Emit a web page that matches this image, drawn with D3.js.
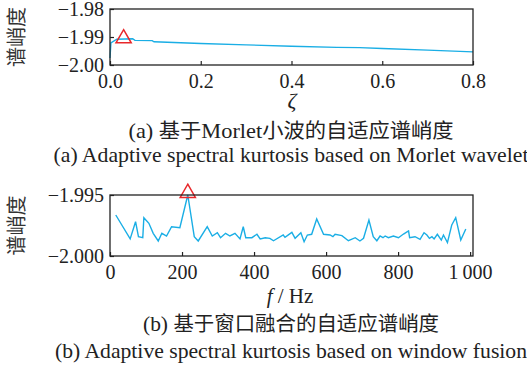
<!DOCTYPE html>
<html>
<head>
<meta charset="utf-8">
<script src="https://cdn.jsdelivr.net/npm/d3@7"></script>
<style>
  body { margin: 0; background: #fff; }
  svg text { font-family: "Liberation Serif", "Times New Roman", serif; fill: #222; }
  svg text.cjk, svg tspan.cjk { font-family: "Noto Sans CJK SC", sans-serif; }
</style>
</head>
<body>
<svg width="527" height="373"></svg>
<script>
// (a) Morlet wavelet adaptive SK: zeta vs kurtosis
var zetaA = [0, 0.002, 0.015, 0.05, 0.055, 0.093, 0.097, 0.2, 0.3, 0.4, 0.5, 0.55, 0.6, 0.7, 0.8];
var skA = [-1.9975, -1.9921, -1.9908, -1.9906, -1.9912, -1.9913, -1.9917, -1.9923, -1.9928, -1.9933, -1.9937, -1.9938, -1.9941, -1.9947, -1.9953];
var peakA = [0.03, -1.9905];
var xTicksA = [0, 0.2, 0.4, 0.6, 0.8];
var yTicksA = [-1.98, -1.99, -2.00];

// (b) window fusion adaptive SK: frequency vs kurtosis
var freqB = [16, 56, 71, 79, 91, 94, 108, 120, 134, 144, 157, 171, 194, 216, 234, 245, 270, 284, 298, 307,
  321, 333, 347, 361, 370, 377, 394, 408, 417, 431, 444, 454, 481, 486, 505, 514, 530, 539, 548, 560,
  574, 593, 611, 619, 625, 644, 662, 681, 694, 704, 719, 731, 741, 750, 758, 764, 773, 787, 801, 815,
  829, 832, 847, 861, 872, 880, 887, 894, 900, 909, 920, 926, 937, 949, 960, 974, 988];
var skB = [-1.99664, -1.9986, -1.99719, -1.99842, -1.9985, -1.99686, -1.99732, -1.99814, -1.99877, -1.99814,
  -1.99836, -1.9976, -1.99768, -1.9950, -1.99842, -1.99877, -1.9976, -1.99836, -1.99809, -1.9985,
  -1.99814, -1.99836, -1.99814, -1.9986, -1.9976, -1.9985, -1.9985, -1.99822, -1.9986, -1.9985,
  -1.99855, -1.99875, -1.99828, -1.99847, -1.99806, -1.99855, -1.99809, -1.99883, -1.99828, -1.99822,
  -1.99697, -1.99822, -1.99828, -1.99842, -1.99822, -1.99833, -1.99875, -1.9985, -1.99877, -1.99855,
  -1.99705, -1.99842, -1.99875, -1.99836, -1.9985, -1.99836, -1.9985, -1.99836, -1.9985, -1.9982,
  -1.99795, -1.9985, -1.99842, -1.99863, -1.99809, -1.99828, -1.99855, -1.99842, -1.9986, -1.99822,
  -1.9987, -1.99828, -1.9989, -1.99746, -1.99686, -1.99869, -1.99779];
var peakB = [216, -1.9950];
var xTicksB = [0, 200, 400, 600, 800, 1000];
var yTicksB = [-1.995, -2.000];

var svg = d3.select("svg");
var serif = '"Liberation Serif", "Times New Roman", serif';
var cjk = '"Noto Sans CJK SC", sans-serif';
var lineColor = "#1aaee5";
var markColor = "#e8282b";

function panel(opt) {
  var x = d3.scaleLinear().domain(opt.xDomain).range([110, 473]);
  var y = d3.scaleLinear().domain(opt.yDomain).range([opt.bottom, opt.top]);
  var g = svg.append("g");

  // bottom axis, ticks pointing inward
  g.append("g")
      .attr("transform", "translate(0," + opt.bottom + ")")
      .call(d3.axisBottom(x).tickValues(opt.xTicks).tickSizeInner(-4).tickSizeOuter(0).tickPadding(9).tickFormat(opt.xFormat))
      .call(function(a) {
        a.select(".domain").remove();
        a.selectAll("line").attr("stroke", "#222").attr("stroke-width", 1.2);
        a.selectAll("text").style("font-family", serif).style("font-size", "20px").style("fill", "#222");
      });

  // left axis
  g.append("g")
      .attr("transform", "translate(110,0)")
      .call(d3.axisLeft(y).tickValues(opt.yTicks).tickSizeInner(-4).tickSizeOuter(0).tickPadding(6).tickFormat(opt.yFormat))
      .call(function(a) {
        a.select(".domain").remove();
        a.selectAll("line").attr("stroke", "#222").attr("stroke-width", 1.2);
        a.selectAll("text").style("font-family", serif).style("font-size", "20px").style("fill", "#222");
      });

  // series line
  var pts = opt.xs.map(function(d, i) { return [d, opt.ys[i]]; });
  g.append("path")
      .datum(pts)
      .attr("fill", "none")
      .attr("stroke", lineColor)
      .attr("stroke-width", 1.4)
      .attr("d", d3.line().x(function(d) { return x(d[0]); }).y(function(d) { return y(d[1]); }));

  // peak marker
  g.append("path")
      .attr("d", d3.symbol().type(d3.symbolTriangle).size(100))
      .attr("transform", "translate(" + x(opt.peak[0]) + "," + (y(opt.peak[1]) + opt.markDy) + ")")
      .attr("fill", "none")
      .attr("stroke", markColor)
      .attr("stroke-width", 1.5);

  // frame
  g.append("rect")
      .attr("x", 110).attr("y", opt.top)
      .attr("width", 363).attr("height", opt.bottom - opt.top)
      .attr("fill", "none").attr("stroke", "#222").attr("stroke-width", 1.3);

  // y label
  svg.append("text")
      .attr("transform", "translate(24," + ((opt.top + opt.bottom) / 2) + ") rotate(-90)")
      .attr("text-anchor", "middle")
      .style("font-family", cjk).style("font-size", "20px").style("fill", "#333")
      .text("谱峭度");
}

panel({
  xDomain: [0, 0.8], yDomain: [-2.00, -1.98], top: 9, bottom: 65,
  xTicks: xTicksA, yTicks: yTicksA,
  xFormat: d3.format(".1f"),
  yFormat: function(d) { return d3.format(".2f")(d).replace("-", "\u2212"); },
  xs: zetaA, ys: skA, peak: peakA, markDy: 0
});

panel({
  xDomain: [0, 1008], yDomain: [-2.000, -1.995], top: 195, bottom: 256,
  xTicks: xTicksB, yTicks: yTicksB,
  xFormat: function(d) { return d === 1000 ? "1\u2009000" : d; },
  yFormat: function(d) { return d3.format(".3f")(d).replace("-", "\u2212"); },
  xs: freqB, ys: skB, peak: peakB, markDy: -2
});

// axis titles and captions
svg.append("text").attr("x", 292).attr("y", 108).attr("text-anchor", "middle")
    .style("font-family", serif).style("font-size", "22px").style("font-style", "italic").text("ζ");

var fHz = svg.append("text").attr("x", 290).attr("y", 303).attr("text-anchor", "middle")
    .style("font-family", serif).style("font-size", "21px");
fHz.append("tspan").style("font-style", "italic").text("f");
fHz.append("tspan").text(" / Hz");

function caption(y, parts, width) {
  var t = svg.append("text").attr("x", 291).attr("y", y).attr("text-anchor", "middle")
      .style("font-family", serif).style("font-size", "21px")
      .attr("textLength", width).attr("lengthAdjust", "spacingAndGlyphs");
  parts.forEach(function(part) {
    t.append("tspan").style("font-family", part[1] ? cjk : serif).style("font-size", part[1] ? "20px" : "21px").text(part[0]);
  });
}

caption(138, [["(a)  ", false], ["基于", true], ["Morlet", false], ["小波的自适应谱峭度", true]], 325);
caption(162, [["(a)  Adaptive spectral kurtosis based on Morlet wavelet", false]], 475);
caption(331, [["(b)  ", false], ["基于窗口融合的自适应谱峭度", true]], 296);
caption(358, [["(b)  Adaptive spectral kurtosis based on window fusion", false]], 472);
</script>
</body>
</html>
